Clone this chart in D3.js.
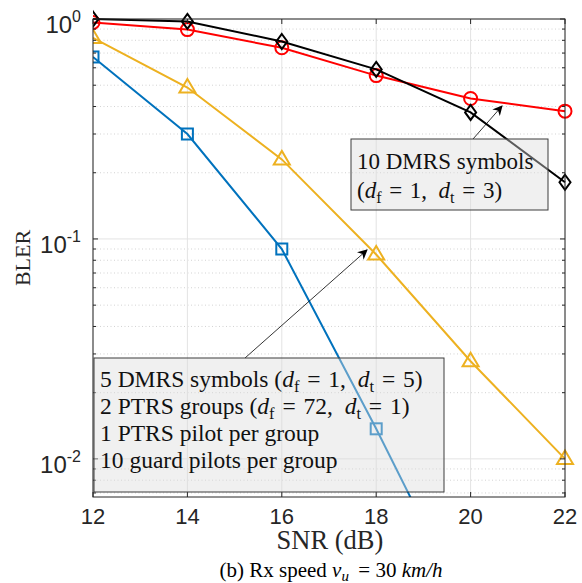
<!DOCTYPE html>
<html>
<head>
<meta charset="utf-8">
<script src="https://cdn.jsdelivr.net/npm/d3@7"></script>
<style>
  body { margin: 0; background: #fff; }
  svg { display: block; }
</style>
</head>
<body>
<div id="chart"></div>
<script>
const snr = [12, 14, 16, 18, 20, 22];
const xTicks = [12, 14, 16, 18, 20, 22];
const yDecades = [1, 0.1, 0.01];
const yTickExp = ['0', '-1', '-2'];

// BLER per curve
const blerDmrs10Black = [1.0, 0.975, 0.79, 0.59, 0.376, 0.181];
const blerRed = [0.965, 0.895, 0.74, 0.553, 0.435, 0.381];
const blerPtrsYellow = [0.82, 0.488, 0.23, 0.085, 0.0278, 0.0100];
const blerPtrsBlue = [0.672, 0.30, 0.090, 0.0137, 0.0019];

const width = 582, height = 583;
const pLeft = 93, pRight = 565, pTop = 19, pBottom = 497;

const svg = d3.select('#chart').append('svg')
  .attr('width', width)
  .attr('height', height);

const x = d3.scaleLinear().domain([12, 22]).range([pLeft, pRight]);
const y = d3.scaleLog().domain([0.00671, 1]).range([pBottom, pTop]);

const serif = '"Liberation Serif", "DejaVu Serif", serif';
const sans = '"Liberation Sans", Arial, sans-serif';

// minor grid (dotted)
const minor = [];
[0.001, 0.01, 0.1].forEach(base => {
  for (let k = 2; k <= 9; k++) {
    const v = base * k;
    if (v > y.domain()[0] && v < 1) minor.push(v);
  }
});

svg.append('g').selectAll('line').data(minor).enter().append('line')
  .attr('x1', pLeft).attr('x2', pRight)
  .attr('y1', d => y(d)).attr('y2', d => y(d))
  .attr('stroke', '#c8c8c8').attr('stroke-width', 0.8)
  .attr('stroke-dasharray', '1,2.5');

// major grid
svg.append('g').selectAll('line').data(xTicks).enter().append('line')
  .attr('x1', d => x(d)).attr('x2', d => x(d))
  .attr('y1', pTop).attr('y2', pBottom)
  .attr('stroke', '#e3e3e3').attr('stroke-width', 1);
svg.append('g').selectAll('line').data(yDecades).enter().append('line')
  .attr('x1', pLeft).attr('x2', pRight)
  .attr('y1', d => y(d)).attr('y2', d => y(d))
  .attr('stroke', '#e3e3e3').attr('stroke-width', 1);

// curves
svg.append('clipPath').attr('id', 'plotclip')
  .append('rect').attr('x', pLeft).attr('y', pTop - 12)
  .attr('width', pRight - pLeft + 12).attr('height', pBottom - pTop + 12);

const series = [
  { vals: blerPtrsBlue, color: '#0072BD', marker: 'square' },
  { vals: blerPtrsYellow, color: '#EDB120', marker: 'triangle' },
  { vals: blerRed, color: '#FF0000', marker: 'circle' },
  { vals: blerDmrs10Black, color: '#000000', marker: 'diamond' }
];

const plot = svg.append('g').attr('clip-path', 'url(#plotclip)');
const line = d3.line().x((d, i) => x(snr[i])).y(d => y(d));

series.forEach(s => {
  plot.append('path')
    .attr('d', line(s.vals))
    .attr('fill', 'none')
    .attr('stroke', s.color)
    .attr('stroke-width', 2);

  const pts = s.vals.map((v, i) => ({ sx: x(snr[i]), sy: y(v) }))
    .filter(p => p.sy <= pBottom);
  const g = plot.append('g');
  pts.forEach(p => {
    let m;
    if (s.marker === 'square') {
      m = g.append('rect').attr('x', p.sx - 5.5).attr('y', p.sy - 5.5)
        .attr('width', 11).attr('height', 11);
    } else if (s.marker === 'circle') {
      m = g.append('circle').attr('cx', p.sx).attr('cy', p.sy).attr('r', 6.5);
    } else if (s.marker === 'triangle') {
      m = g.append('path').attr('d',
        `M${p.sx},${p.sy - 8.5} L${p.sx + 8},${p.sy + 5} L${p.sx - 8},${p.sy + 5} Z`);
    } else {
      m = g.append('path').attr('d',
        `M${p.sx},${p.sy - 7.5} L${p.sx + 5.5},${p.sy} L${p.sx},${p.sy + 7.5} L${p.sx - 5.5},${p.sy} Z`);
    }
    m.attr('fill', 'none').attr('stroke', s.color).attr('stroke-width', 2);
  });
});

// axes box and ticks
const axisColor = '#262626';
svg.append('rect')
  .attr('x', pLeft).attr('y', pTop)
  .attr('width', pRight - pLeft).attr('height', pBottom - pTop)
  .attr('fill', 'none').attr('stroke', axisColor).attr('stroke-width', 1);

const ticks = svg.append('g').attr('stroke', axisColor).attr('stroke-width', 1);
xTicks.forEach(t => {
  ticks.append('line').attr('x1', x(t)).attr('x2', x(t)).attr('y1', pBottom).attr('y2', pBottom - 5);
  ticks.append('line').attr('x1', x(t)).attr('x2', x(t)).attr('y1', pTop).attr('y2', pTop + 5);
});
yDecades.forEach(t => {
  ticks.append('line').attr('x1', pLeft).attr('x2', pLeft + 5).attr('y1', y(t)).attr('y2', y(t));
  ticks.append('line').attr('x1', pRight).attr('x2', pRight - 5).attr('y1', y(t)).attr('y2', y(t));
});
minor.forEach(t => {
  ticks.append('line').attr('x1', pLeft).attr('x2', pLeft + 3).attr('y1', y(t)).attr('y2', y(t));
  ticks.append('line').attr('x1', pRight).attr('x2', pRight - 3).attr('y1', y(t)).attr('y2', y(t));
});

// tick labels
svg.append('g').selectAll('text').data(xTicks).enter().append('text')
  .attr('x', d => x(d)).attr('y', pBottom + 27)
  .attr('text-anchor', 'middle')
  .attr('font-family', sans).attr('font-size', 22)
  .attr('fill', axisColor)
  .text(d => d);

yDecades.forEach((t, i) => {
  const tx = svg.append('text')
    .attr('x', pLeft - 12).attr('y', y(t) + 14)
    .attr('text-anchor', 'end')
    .attr('font-family', sans).attr('font-size', 24)
    .attr('fill', axisColor);
  tx.append('tspan').text('10');
  tx.append('tspan').attr('font-size', 16).attr('dy', -11).text(yTickExp[i]);
});

// axis titles
svg.append('text')
  .attr('transform', `translate(30,${(pTop + pBottom) / 2}) rotate(-90)`)
  .attr('text-anchor', 'middle')
  .attr('font-family', serif).attr('font-size', 22)
  .attr('fill', axisColor)
  .text('BLER');

svg.append('text')
  .attr('x', (pLeft + pRight) / 2 + 1).attr('y', 549)
  .attr('text-anchor', 'middle')
  .attr('font-family', serif).attr('font-size', 26.5)
  .attr('fill', axisColor)
  .text('SNR (dB)');

// caption
const cap = svg.append('text')
  .attr('x', 331).attr('y', 577)
  .attr('text-anchor', 'middle')
  .attr('font-family', serif).attr('font-size', 21)
  .attr('fill', '#000');
cap.append('tspan').text('(b) Rx speed ');
cap.append('tspan').attr('font-style', 'italic').text('v');
cap.append('tspan').attr('font-style', 'italic').attr('font-size', 15).attr('dy', 4).text('u');
cap.append('tspan').attr('dy', -4).text('\u2009 = 30 ');
cap.append('tspan').attr('font-style', 'italic').text('km/h');

// annotations
const defs = svg.append('defs');
defs.append('marker').attr('id', 'arrowhead')
  .attr('viewBox', '0 0 10 10').attr('refX', 9).attr('refY', 5)
  .attr('markerWidth', 10).attr('markerHeight', 10)
  .attr('markerUnits', 'userSpaceOnUse')
  .attr('orient', 'auto')
  .append('path').attr('d', 'M0,0 L10,5 L0,10 L3,5 Z').attr('fill', '#000');

function arrow(x1, y1, x2, y2) {
  svg.append('line')
    .attr('x1', x1).attr('y1', y1).attr('x2', x2).attr('y2', y2)
    .attr('stroke', '#000').attr('stroke-width', 0.8)
    .attr('marker-end', 'url(#arrowhead)');
}

// TeX-like spacing: wider gaps round "=" and after the comma
const EQ = '\u2004=\u2004';
const GAP = ',\u2002';

function mathLine(t, parts, fs) {
  parts.forEach(p => {
    const ts = t.append('tspan').text(p.s);
    if (p.it) ts.attr('font-style', 'italic');
    if (p.sub) ts.attr('font-size', fs * 0.7).attr('dy', fs * 0.22);
    if (p.up) ts.attr('dy', -fs * 0.22);
  });
}

arrow(473, 139, 502, 106);
arrow(245, 358, 367, 250);

const boxFill = '#dcdcdc';
svg.append('rect')
  .attr('x', 351).attr('y', 139).attr('width', 197).attr('height', 71)
  .attr('fill', boxFill).attr('fill-opacity', 0.42)
  .attr('stroke', '#3c3c3c').attr('stroke-width', 1);

const fsUp = 23;
svg.append('text').attr('font-family', serif).attr('font-size', fsUp).attr('fill', '#111')
  .attr('x', 357).attr('y', 169).text('10 DMRS symbols');
const t1b = svg.append('text').attr('font-family', serif).attr('font-size', fsUp).attr('fill', '#111')
  .attr('x', 357).attr('y', 198);
mathLine(t1b, [
  { s: '(' }, { s: 'd', it: true }, { s: 'f', sub: true }, { s: EQ + '1' + GAP, up: true },
  { s: 'd', it: true }, { s: 't', sub: true }, { s: EQ + '3)', up: true }
], fsUp);

svg.append('rect')
  .attr('x', 94).attr('y', 358).attr('width', 350).attr('height', 134)
  .attr('fill', boxFill).attr('fill-opacity', 0.42)
  .attr('stroke', '#3c3c3c').attr('stroke-width', 1);

const fsLow = 23.5;
const lineY = [387, 414, 441, 468];
const l1 = svg.append('text').attr('font-family', serif).attr('font-size', fsLow).attr('fill', '#111')
  .attr('x', 100).attr('y', lineY[0]);
mathLine(l1, [
  { s: '5 DMRS symbols (' }, { s: 'd', it: true }, { s: 'f', sub: true }, { s: EQ + '1' + GAP, up: true },
  { s: 'd', it: true }, { s: 't', sub: true }, { s: EQ + '5)', up: true }
], fsLow);
const l2 = svg.append('text').attr('font-family', serif).attr('font-size', fsLow).attr('fill', '#111')
  .attr('x', 100).attr('y', lineY[1]);
mathLine(l2, [
  { s: '2 PTRS groups (' }, { s: 'd', it: true }, { s: 'f', sub: true }, { s: EQ + '72' + GAP, up: true },
  { s: 'd', it: true }, { s: 't', sub: true }, { s: EQ + '1)', up: true }
], fsLow);
svg.append('text').attr('font-family', serif).attr('font-size', fsLow).attr('fill', '#111')
  .attr('x', 100).attr('y', lineY[2]).text('1 PTRS pilot per group');
svg.append('text').attr('font-family', serif).attr('font-size', fsLow).attr('fill', '#111')
  .attr('x', 100).attr('y', lineY[3]).text('10 guard pilots per group');
</script>
</body>
</html>
